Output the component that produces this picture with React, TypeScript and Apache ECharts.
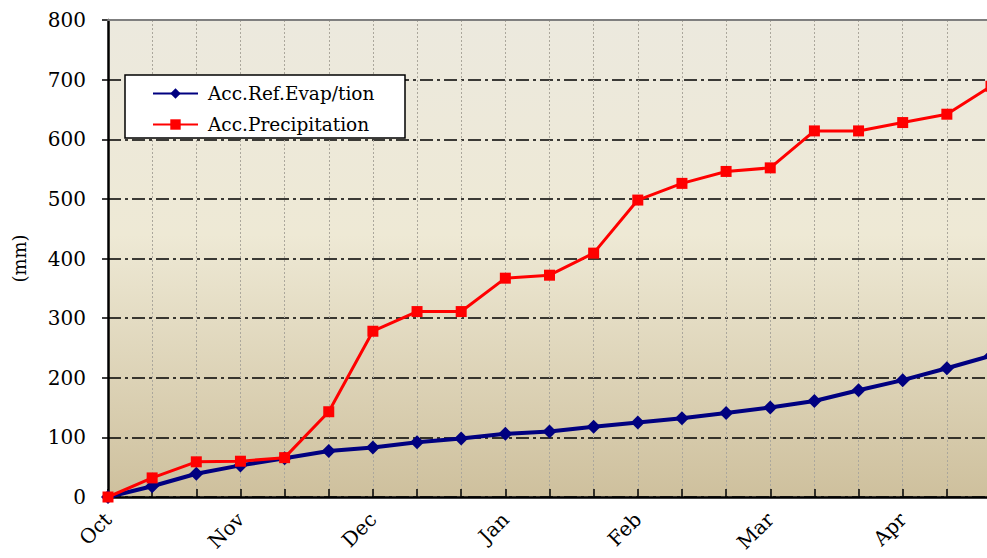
import React, { useEffect, useRef } from "react";
import * as echarts from "echarts";

const categories = [
  "Oct", "", "", "Nov", "", "", "Dec", "", "", "Jan", "", "",
  "Feb", "", "", "Mar", "", "", "Apr", "", "",
];
const evapValues = [0, 18, 39, 53, 65, 77, 83, 92, 98, 106, 110, 118, 125, 132, 141, 150, 161, 179, 196, 216, 237];
const precipValues = [0, 32, 59, 60, 66, 143, 278, 311, 311, 367, 372, 409, 498, 526, 546, 552, 614, 614, 628, 642, 689];
const yMin = 0;
const yMax = 800;
const yStep = 100;

const FONT = "DejaVu Serif";

export default function App() {
  const ref = useRef<HTMLDivElement>(null);
  useEffect(() => {
    if (!ref.current) return;
    const chart = echarts.init(ref.current, null, { renderer: "svg" });
    chart.setOption({
      animation: false,
      textStyle: { fontFamily: FONT },
      grid: {
        left: 108,
        top: 20,
        bottom: 61,
        right: -4,
        outerBoundsMode: "none",
        containLabel: false,
        show: true,
        borderWidth: 0,
        backgroundColor: new echarts.graphic.LinearGradient(0, 0, 0, 1, [
          { offset: 0, color: "#ECE9DE" },
          { offset: 0.45, color: "#EEE9D5" },
          { offset: 1, color: "#CEC09D" },
        ]),
      },
      legend: {
        left: 152,
        top: 84,
        padding: 0,
        orient: "vertical",
        itemWidth: 45,
        itemHeight: 13,
        itemGap: 12,
        z: 20,
        textStyle: { fontFamily: FONT, fontSize: 18.5, color: "#000", padding: [0, 0, 0, 5] },
        data: ["Acc.Ref.Evap/tion", "Acc.Precipitation"],
      },
      graphic: [
        {
          type: "rect",
          z: 15,
          shape: { x: 125, y: 75, width: 280, height: 63 },
          style: { fill: "#fff", stroke: "#000", lineWidth: 1.5 },
        },
      ],
      xAxis: [
        {
          type: "category",
          data: categories,
          boundaryGap: false,
          axisLine: { lineStyle: { color: "#000", width: 2.5 } },
          axisTick: { inside: true, length: 8, interval: 0, lineStyle: { color: "#000", width: 1.5 } },
          axisLabel: {
            interval: 0,
            rotate: 45,
            margin: 19,
            fontSize: 20,
            color: "#000",
            fontFamily: FONT,
          },
          splitLine: {
            show: true,
            interval: 0,
            lineStyle: { color: "#ABA79C", type: [2, 2], width: 1 },
          },
        },
        {
          type: "category",
          position: "top",
          data: categories,
          boundaryGap: false,
          z: 5,
          axisLine: { show: true, lineStyle: { color: "#7f7f7f", width: 2 } },
          axisTick: { show: false },
          axisLabel: { show: false },
          splitLine: { show: false },
        },
      ],
      yAxis: {
        type: "value",
        min: yMin,
        max: yMax,
        interval: yStep,
        name: "(mm)",
        nameLocation: "middle",
        nameGap: 80,
        nameTextStyle: { fontSize: 18, color: "#000", fontFamily: FONT },
        axisLine: { show: true, lineStyle: { color: "#000", width: 2.5 } },
        axisTick: { show: true, length: 6, lineStyle: { color: "#000", width: 1.5 } },
        axisLabel: {
          fontSize: 20,
          color: "#000",
          margin: 22,
          fontFamily: FONT,
        },
        splitLine: {
          show: true,
          lineStyle: { color: "#000", width: 1.5, type: [13, 4, 3, 4] },
        },
      },
      series: [
        {
          name: "Acc.Ref.Evap/tion",
          type: "line",
          data: evapValues,
          symbol: "diamond",
          symbolSize: 14,
          lineStyle: { color: "#000080", width: 4 },
          itemStyle: { color: "#000080" },
          z: 3,
        },
        {
          name: "Acc.Precipitation",
          type: "line",
          data: precipValues,
          symbol: "rect",
          symbolSize: 11,
          lineStyle: { color: "#FF0000", width: 3 },
          itemStyle: { color: "#FF0000" },
          z: 4,
        },
      ],
    });
    return () => chart.dispose();
  }, []);
  return (
    <div
      ref={ref}
      style={{ position: "absolute", left: 0, top: 0, width: 987, height: 558 }}
    />
  );
}
